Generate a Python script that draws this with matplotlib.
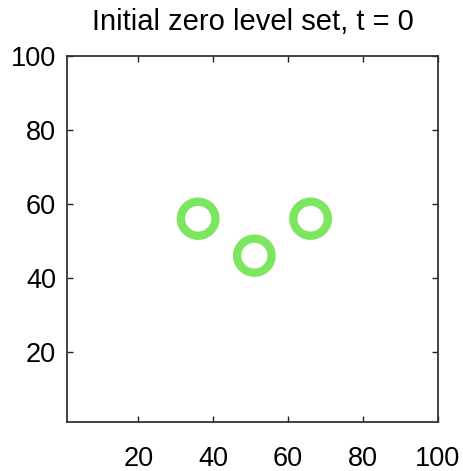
import numpy as np
import matplotlib
matplotlib.use("Agg")
import matplotlib.pyplot as plt

# Data
centers_x = [36, 51, 66]
centers_y = [56, 46, 56]
radius = 4.6
title = "Initial zero level set, t = 0"
xticks = [20, 40, 60, 80, 100]
yticks = [20, 40, 60, 80, 100]

plt.rcParams['font.family'] = ['Liberation Sans', 'DejaVu Sans']

fig = plt.figure(figsize=(4.63, 4.71), dpi=100)
ax = fig.add_axes([0.1447, 0.104, 0.8013, 0.777])

gx, gy = np.meshgrid(np.linspace(1, 100, 800), np.linspace(1, 100, 800))
phi = np.min([np.hypot(gx - cx, gy - cy) - radius for cx, cy in zip(centers_x, centers_y)], axis=0)
ax.contour(gx, gy, phi, levels=[0], colors=['#7de660'], linewidths=6.0)

ax.set_xlim(1, 100)
ax.set_ylim(1, 100)
ax.set_xticks(xticks)
ax.set_yticks(yticks)
ax.tick_params(direction='in', length=4, width=1, top=True, right=True,
               labelsize=19.5, colors='#222222', labelcolor='black')
ax.tick_params(axis='x', pad=17)
ax.tick_params(axis='y', pad=8)
for s in ax.spines.values():
    s.set_linewidth(1.3)
    s.set_color('#333333')
ax.set_title(title, fontsize=21, pad=18.5)

fig.savefig("out.png", dpi=100)
